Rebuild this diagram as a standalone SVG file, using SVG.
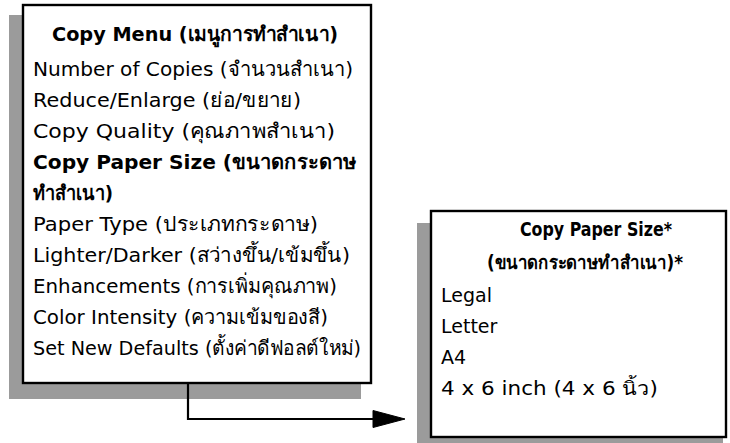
<svg xmlns="http://www.w3.org/2000/svg" width="730" height="443" viewBox="0 0 730 443">
  <defs>
    <style>
      .shadow { fill: #9b9b9b; stroke: none; }
      .box { fill: #ffffff; stroke: #000000; stroke-width: 2.4; }
      .t { font-family: "DejaVu Sans", "Noto Sans", sans-serif; font-size: 20px; fill: #000000; }
      .s { font-size: 19px; }
      .b { font-weight: bold; }
      .conn { fill: none; stroke: #000000; stroke-width: 2.2; }
      .head { fill: #000000; stroke: #000000; stroke-width: 1; stroke-linejoin: miter; }
    </style>
  </defs>
  <rect width="730" height="443" fill="#ffffff"/>

  <g id="copy-menu">
    <rect class="shadow" x="9" y="15" width="352" height="384"/>
    <rect class="box" x="23" y="5" width="348" height="378"/>
    <text class="t b" x="52" y="41" textLength="286" lengthAdjust="spacingAndGlyphs">Copy Menu (เมนูการทำสำเนา)</text>
    <text class="t" x="33" y="76" textLength="320" lengthAdjust="spacingAndGlyphs">Number of Copies (จำนวนสำเนา)</text>
    <text class="t" x="33" y="107" textLength="268" lengthAdjust="spacingAndGlyphs">Reduce/Enlarge (ย่อ/ขยาย)</text>
    <text class="t" x="33" y="138" textLength="302" lengthAdjust="spacingAndGlyphs">Copy Quality (คุณภาพสำเนา)</text>
    <text class="t b" x="33" y="169" textLength="323" lengthAdjust="spacingAndGlyphs">Copy Paper Size (ขนาดกระดาษ</text>
    <text class="t b" x="33" y="200" textLength="80" lengthAdjust="spacingAndGlyphs">ทำสำเนา)</text>
    <text class="t" x="33" y="231" textLength="285" lengthAdjust="spacingAndGlyphs">Paper Type (ประเภทกระดาษ)</text>
    <text class="t" x="33" y="262" textLength="317" lengthAdjust="spacingAndGlyphs">Lighter/Darker (สว่างขึ้น/เข้มขึ้น)</text>
    <text class="t" x="33" y="293" textLength="304" lengthAdjust="spacingAndGlyphs">Enhancements (การเพิ่มคุณภาพ)</text>
    <text class="t" x="33" y="324" textLength="295" lengthAdjust="spacingAndGlyphs">Color Intensity (ความเข้มของสี)</text>
    <text class="t" x="33" y="355" textLength="328" lengthAdjust="spacingAndGlyphs">Set New Defaults (ตั้งค่าดีฟอลต์ใหม่)</text>
  </g>

  <g id="copy-paper-size">
    <rect class="shadow" x="417" y="223" width="306" height="220"/>
    <rect class="box" x="431" y="211" width="295" height="226"/>
    <text class="t s b" x="520" y="236" textLength="152" lengthAdjust="spacingAndGlyphs">Copy Paper Size*</text>
    <text class="t s b" x="487" y="269" textLength="196" lengthAdjust="spacingAndGlyphs">(ขนาดกระดาษทำสำเนา)*</text>
    <text class="t s" x="441" y="302">Legal</text>
    <text class="t s" x="441" y="333">Letter</text>
    <text class="t s" x="441" y="364">A4</text>
    <text class="t s" x="441" y="395" textLength="217" lengthAdjust="spacingAndGlyphs">4 x 6 inch (4 x 6 นิ้ว)</text>
  </g>

  <g id="connectors">
    <path class="conn" d="M188,384 V419 H375"/>
    <polygon class="head" points="373,410.5 405,419 373,427.5"/>
  </g>
</svg>
